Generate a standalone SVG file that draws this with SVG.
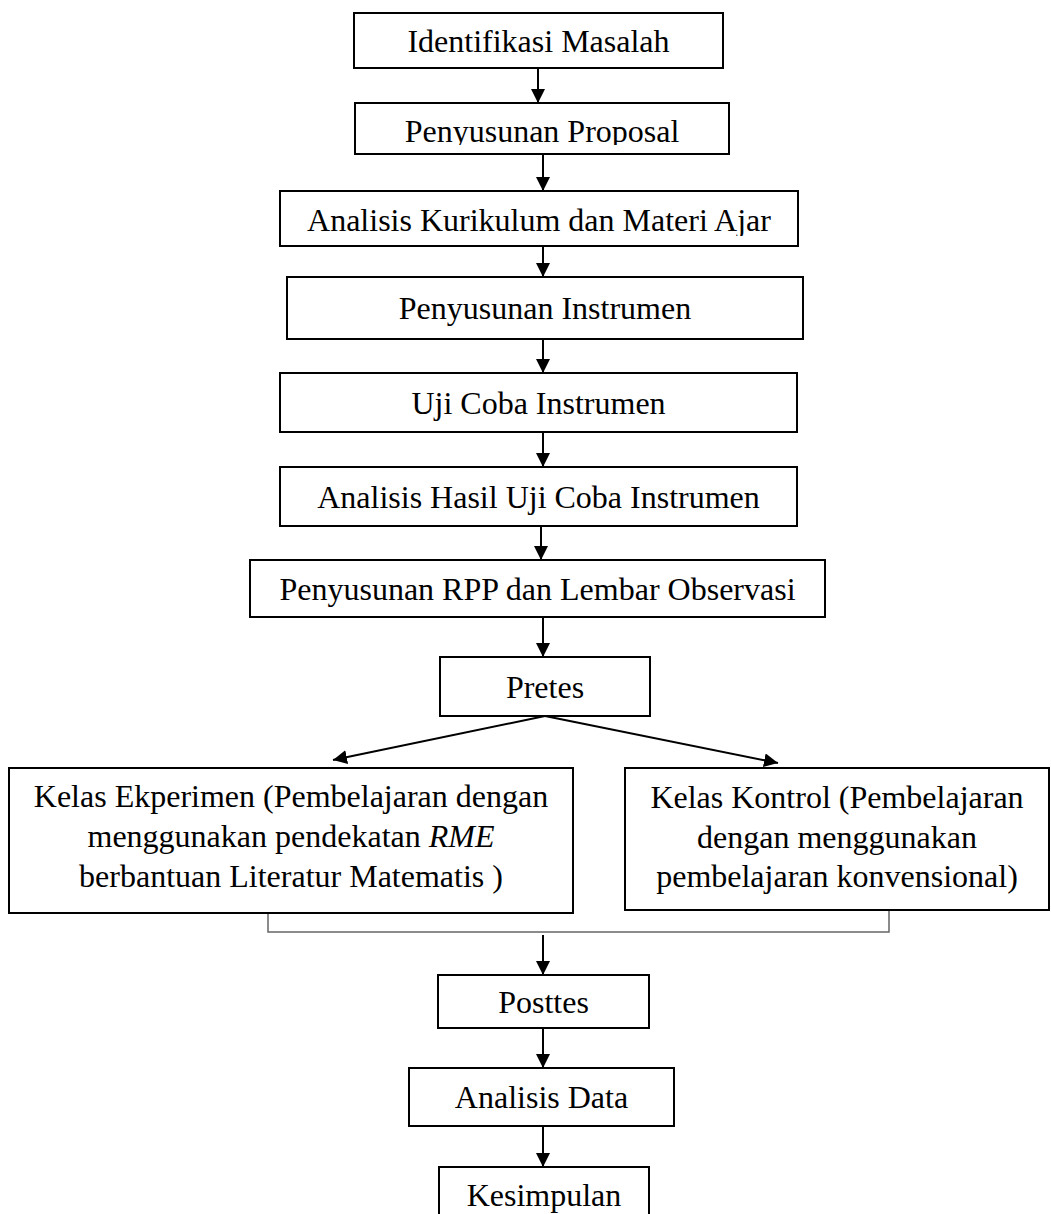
<svg xmlns="http://www.w3.org/2000/svg" width="1051" height="1214" viewBox="0 0 1051 1214">
<style>
.box{fill:#fff;stroke:#000;stroke-width:2}
.t{font-family:"Liberation Serif","Times New Roman",serif;font-size:32px;fill:#000;text-anchor:middle}
.c{stroke:#000;stroke-width:2;fill:none}
.br{stroke:#666;stroke-width:1.5;fill:none}
</style>
<defs>
<marker id="ah" markerUnits="userSpaceOnUse" markerWidth="14" markerHeight="14" refX="14" refY="7" orient="auto">
<path d="M0,0 L14,7 L0,14 Z" fill="#000"/>
</marker>
<clipPath id="clip2"><rect x="355" y="103" width="374" height="42"/></clipPath>
<clipPath id="clip3"><rect x="280" y="191" width="518" height="45"/></clipPath>
</defs>
<rect width="1051" height="1214" fill="#fff"/>
<g id="connectors">
<line class="c" x1="538" y1="68" x2="538" y2="103" marker-end="url(#ah)"/>
<line class="c" x1="543" y1="154" x2="543" y2="191" marker-end="url(#ah)"/>
<line class="c" x1="543" y1="246" x2="543" y2="277" marker-end="url(#ah)"/>
<line class="c" x1="543" y1="339" x2="543" y2="373" marker-end="url(#ah)"/>
<line class="c" x1="543" y1="432" x2="543" y2="467" marker-end="url(#ah)"/>
<line class="c" x1="541" y1="526" x2="541" y2="560" marker-end="url(#ah)"/>
<line class="c" x1="543" y1="617" x2="543" y2="657" marker-end="url(#ah)"/>
<line class="c" x1="545" y1="716" x2="333" y2="760" marker-end="url(#ah)"/>
<line class="c" x1="545" y1="716" x2="778" y2="763" marker-end="url(#ah)"/>
<polyline class="br" points="268,913 268,932 889,932 889,910"/>
<line class="c" x1="543" y1="935" x2="543" y2="975" marker-end="url(#ah)"/>
<line class="c" x1="543" y1="1028" x2="543" y2="1068" marker-end="url(#ah)"/>
<line class="c" x1="543" y1="1126" x2="543" y2="1167" marker-end="url(#ah)"/>
</g>
<g id="n1"><rect class="box" x="354" y="13" width="369" height="55"/><text class="t" x="538.5" y="52">Identifikasi Masalah</text></g>
<g id="n2"><rect class="box" x="355" y="103" width="374" height="51"/><text class="t" x="542" y="142" clip-path="url(#clip2)">Penyusunan Proposal</text></g>
<g id="n3"><rect class="box" x="280" y="191" width="518" height="55"/><text class="t" x="539" y="231" clip-path="url(#clip3)">Analisis Kurikulum dan Materi Ajar</text></g>
<g id="n4"><rect class="box" x="287" y="277" width="516" height="62"/><text class="t" x="545" y="319">Penyusunan Instrumen</text></g>
<g id="n5"><rect class="box" x="280" y="373" width="517" height="59"/><text class="t" x="538.5" y="414">Uji Coba Instrumen</text></g>
<g id="n6"><rect class="box" x="280" y="467" width="517" height="59"/><text class="t" x="538.5" y="508">Analisis Hasil Uji Coba Instrumen</text></g>
<g id="n7"><rect class="box" x="250" y="560" width="575" height="57"/><text class="t" x="537.5" y="600">Penyusunan RPP dan Lembar Observasi</text></g>
<g id="n8"><rect class="box" x="440" y="657" width="210" height="59"/><text class="t" x="545" y="698">Pretes</text></g>
<g id="n9"><rect class="box" x="9" y="768" width="564" height="145"/>
<text class="t" x="291" y="807">Kelas Ekperimen (Pembelajaran dengan</text>
<text class="t" x="291" y="847">menggunakan pendekatan <tspan font-style="italic">RME</tspan></text>
<text class="t" x="291" y="887">berbantuan Literatur Matematis )</text></g>
<g id="n10"><rect class="box" x="625" y="768" width="424" height="142"/>
<text class="t" x="837" y="808">Kelas Kontrol (Pembelajaran</text>
<text class="t" x="837" y="848">dengan menggunakan</text>
<text class="t" x="837" y="887">pembelajaran konvensional)</text></g>
<g id="n11"><rect class="box" x="438" y="975" width="211" height="53"/><text class="t" x="543.5" y="1013">Posttes</text></g>
<g id="n12"><rect class="box" x="409" y="1068" width="265" height="58"/><text class="t" x="541.5" y="1108">Analisis Data</text></g>
<g id="n13"><rect class="box" x="439" y="1167" width="210" height="60"/><text class="t" x="544" y="1206">Kesimpulan</text></g>
</svg>
